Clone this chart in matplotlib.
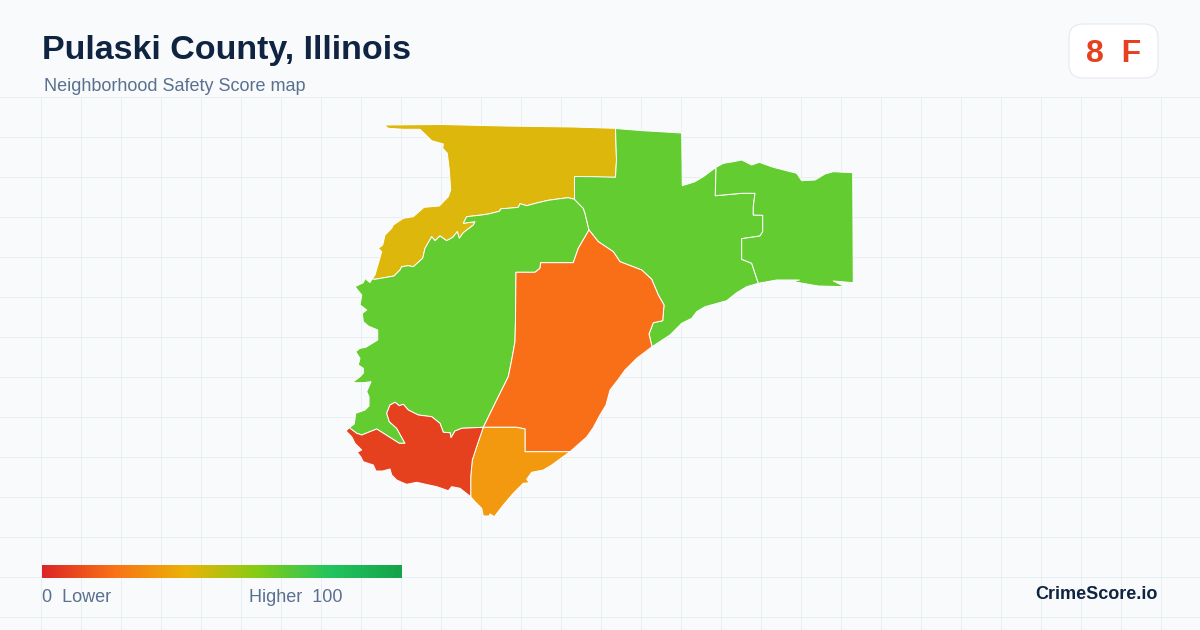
# Pulaski County, Illinois - safety score map
import matplotlib
matplotlib.use("Agg")
import matplotlib.pyplot as plt
from matplotlib.colors import LinearSegmentedColormap
from matplotlib.patches import FancyBboxPatch
import numpy as np

plt.rcParams['font.family'] = ['Liberation Sans', 'DejaVu Sans']

title = "Pulaski County, Illinois"
subtitle = "Neighborhood Safety Score map"
score_text = "8  F"
brand = "CrimeScore.io"

# shared borders between tracts (map coordinates)
north_border = [(375,279.3),(394,276),(400,270),(401.7,266.7),(408.3,265.7),(413.3,266.7),(422.7,258.3),(425,248.3),
                (431.7,236.7),(435,240.7),(440,236),(446.7,240.7),(452.7,237.3),(457.3,231.7),(459.3,238.3),
                (463.3,232.7),(473.3,225),(475,221.7),(463.3,223.3),(466.7,216.7),(481.7,215),(488.3,214),
                (499.3,211.3),(501,208.7),(508.3,208.3),(518.3,207.3),(520,203.7),(526.7,205.7),(536.7,203),
                (548.3,200.3),(560,198.7),(568.3,197.7),(574.5,199.3)]
split_border = [(574.5,199.3),(580,205),(583.3,208.3),(585,213.3),(589,230)]
orange_west = [(589,230),(578.3,248.3),(573.3,262.7),(540.7,262.7),(540,268.3),(535,272.3),(516,272.3),
               (515.5,320),(515,341.7),(511.7,360),(508.3,376.7),(496.7,400),(483.3,427.3)]
orange_east = [(589,230),(598.3,241.7),(613.3,251.7),(620,261.7),(641.7,270),(651.7,279.3),(658.3,295),
               (664,305),(662.7,320.7),(653.3,322.7),(649,334),(652,346.7)]
red_north = [(483.3,427.3),(461.7,428.3),(455,431),(451,437.7),(450,432.7),(443.3,432.3),(440,423.3),
             (431.7,416.7),(418.3,415),(408.3,410),(403.3,404.3),(399.3,405.7),(395,402.3),(390,405),(386.7,413.3),
             (389.3,421.7),(396.7,428.3),(405,443.3),(399.3,443.3),(376.7,429),(361.7,435),(356.7,433.3),(349.3,427.7)]
red_east = [(483.3,427.3),(478.3,441.7),(472.3,460),(470.7,476.7),(470.7,496.7)]
amber_north = [(483.3,427.3),(516.7,427.3),(525,429),(525,451.7),(570,451.7)]
inner_east = [(716,167.3),(715.3,195.7),(741.7,193.3),(755,193.3),(753.3,206.7),(753.3,215),(762.7,215.3),
              (762.7,231.7),(760,236),(741.7,238.7),(741.7,259.3),(751.7,263.3),(758.3,283.3)]

# outer edges
yellow_outer = [(372,279),(375,275),(381.7,251.7),(378.3,248.3),(382.7,245),(385,235),(391.7,228.3),(393.3,225),
                (403.3,218.3),(413.3,216.7),(424,207.3),(439.3,206),(448.3,196.7),(450.7,190),
                (449.3,170),(447.3,153.3),(442.7,148.3),(443.3,144),(431.7,140.7),(420,129.3),(403.3,129.3),(388.3,128.3),
                (384,125),(441.7,124.5),(505,126),(573.3,127),(615.5,128.3),(616.5,160),(615.5,177.3),(605,177.3),
                (574.5,176.5)]
west_coast = [(349.3,427.7),(354.3,424),(355.7,413.3),(365,410),(369,406),(369,396.7),(366.7,391.7),(371,381.7),
              (363.3,382.7),(352.3,382.7),(360,376.7),(363.3,373.3),(363.3,368.3),(358.3,365),(360,358.3),
              (355.7,351.7),(360,348.3),(365.7,347.3),(377.7,340),(377.7,330),(368.3,326),(363.3,321.7),(362.3,313.3),
              (366.7,310),(360,305),(361.7,295),(355,286.7),(363.3,282.7),(365,278.5),(370,282.5),(372,279)]
central_outer = [(574.5,176.5),(595,176.7),(615.5,177.3),(616.5,160),(615.5,128.5),(643.3,130.7),(681.7,133),
                 (682.3,185.7),(695,181.7),(703.3,176.7),(716,167.3)]
central_coast = [(758.3,283.3),(746.7,286.7),(736.7,292.7),(726.7,300.7),(705,306.7),(696.7,311.7),(691.7,318.3),
                 (681.7,323.3),(670,335),(652,346.7)]
east_outer = [(716,167.3),(723.3,163.3),(733.3,161.7),(741.7,160),(751.7,165),(759.3,162.3),(773.3,167.3),(796.7,173.3),
              (801.7,180.7),(815,180),(825,174),(833.3,171.7),(852.7,172.7),(853.3,282.7),(833.3,281),(845,286.7),
              (818.3,286),(793.3,281.7),(799.3,280),(776.7,280),(758.3,283.3)]
orange_coast = [(652,346.7),(636.7,358.3),(625,370),(618.3,379.3),(610,390),(606,405),(600,415),(593,428),(586.7,437),(570,451.7)]
amber_coast = [(570,451.7),(551.7,465),(543.3,470),(531.7,472.3),(526.7,479.3),(529.3,482.7),(523.3,483.3),(513.3,493.3),
               (503.3,505),(494.3,516.7),(490,514),(489,516),(483.3,516),(481.7,508.3),(475,501.7),(470.7,496.7)]
red_coast = [(470.7,496.7),(460,488.3),(451.7,486.7),(448.3,490.7),(436.7,486.7),(416.7,482.3),(406.7,484.3),
             (401.7,482.3),(396.7,480),(391.7,475),(390,469),(382.7,471),(376,471),(373.3,465),(363.3,461.7),(360.7,456.7),
             (357.3,452.3),(361.7,450),(355,443.3),(351.7,436.7),(346,431),(349.3,427.7)]

tracts = [
    (north_border + yellow_outer[::-1], "#DDB70B"),
    (north_border + split_border + orange_west + red_north + west_coast, "#63CC30"),
    (central_outer + inner_east + central_coast + orange_east[::-1] + split_border[::-1], "#63CC30"),
    (inner_east + east_outer[::-1], "#63CC30"),
    (orange_east + orange_coast + amber_north[::-1] + orange_west[::-1], "#F96F18"),
    (amber_north + amber_coast + red_east[::-1], "#F2990F"),
    (red_east + red_coast + red_north[::-1], "#E6411F"),
]

legend_colors = ["#DC2626", "#F97316", "#EAB308", "#84CC16", "#22C55E", "#16A34A"]

fig = plt.figure(figsize=(12, 6.3), dpi=100, facecolor="#F8FAFC")
ax = fig.add_axes([0, 0, 1, 1])
ax.set_xlim(0, 1200)
ax.set_ylim(630, 0)
ax.axis("off")

# background grid
for x in np.arange(40, 1200, 40):
    ax.plot([x + .5, x + .5], [97, 630], color="#E8EFF3", lw=0.72, zorder=1)
for y in np.arange(97, 630, 40):
    ax.plot([0, 1200], [y - .5, y - .5], color="#E8EFF3", lw=0.72, zorder=1)

# map
for pts, col in tracts:
    xs, ys = zip(*pts)
    ax.fill(xs, ys, facecolor=col, edgecolor="white", lw=0.72, joinstyle="round", zorder=2)

# text
ax.text(42, 59, title, fontsize=24.5, fontweight="bold", color="#0F2440", va="baseline")
ax.text(44, 90.7, subtitle, fontsize=12.96, color="#5A7090", va="baseline")

# score badge
ax.add_patch(FancyBboxPatch((1083, 38), 61, 26, boxstyle="round,pad=14,rounding_size=14",
                            facecolor="white", edgecolor="#E2E8F0", lw=0.72, zorder=3))
ax.text(1113.5, 62, score_text, fontsize=23, fontweight="bold", color="#E6411F",
        ha="center", va="baseline", zorder=4)

# legend
cmap = LinearSegmentedColormap.from_list("score", legend_colors)
ax.imshow(np.linspace(0, 1, 360).reshape(1, -1), cmap=cmap, extent=(42, 402, 578, 565),
          aspect="auto", zorder=3)
ax.set_xlim(0, 1200)
ax.set_ylim(630, 0)
ax.text(42, 602.5, "0  Lower", fontsize=12.96, color="#5A7090", va="baseline")
ax.text(249, 602.5, "Higher  100", fontsize=12.96, color="#5A7090", va="baseline")
ax.text(1158, 599, brand, fontsize=13, fontweight="bold", color="#0F2440", ha="right", va="baseline")

fig.savefig("out.png", dpi=100, facecolor=fig.get_facecolor())
